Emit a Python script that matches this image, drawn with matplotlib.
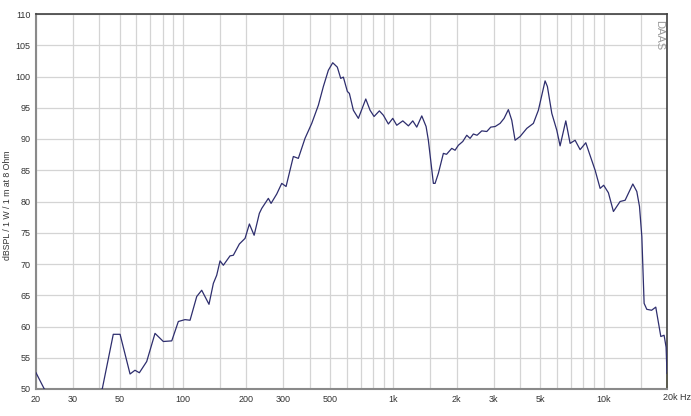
import matplotlib
matplotlib.use("Agg")
import matplotlib.pyplot as plt
import matplotlib.transforms as mtrans
import numpy as np

# frequency response (Hz, dB SPL)
freq = [20, 21.9, 24, 35, 41.3, 46.6, 50.2, 56, 59.1, 62, 67.2, 73.6, 80.6, 88.4,
        95, 102.2, 108, 116.2, 122.7, 132.9, 139.4, 144.6, 150, 155.5, 167.3, 173.5,
        185.3, 197.2, 206.8, 217.8, 230.6, 236.8, 254.5, 262.2, 279, 294.7, 309,
        334.6, 353.4, 380.2, 409.3, 440, 464.8, 490.9, 515, 541.5, 562, 578.6,
        604.5, 617.9, 645.5, 681.8, 739.4, 775, 809.7, 858, 896.5, 947, 993.6,
        1038, 1109, 1179, 1237, 1292, 1365, 1431, 1467, 1550, 1579, 1637, 1729,
        1790, 1895, 1965, 2038, 2138, 2234, 2316, 2401, 2500, 2633, 2781, 2905,
        3050, 3217, 3361, 3522, 3656, 3791, 4005, 4310, 4632, 4892, 5265, 5400,
        5667, 5985, 6205, 6605, 6924, 7313, 7726, 8222, 8550, 9106, 9617, 10000,
        10530, 11125, 11970, 12644, 13757, 14370, 14800, 15183, 15569, 16032,
        16900, 17687, 18000, 18690, 19373, 19800, 20000]
spl = [52.6, 50.0, 49.0, 49.0, 50.0, 58.75, 58.75, 52.4, 53.0, 52.6, 54.4, 58.9,
       57.6, 57.7, 60.8, 61.1, 61.0, 64.8, 65.8, 63.55, 66.9, 68.2, 70.5, 69.8,
       71.3, 71.4, 73.2, 74.1, 76.4, 74.6, 78.1, 78.9, 80.5, 79.7, 81.2, 82.9,
       82.4, 87.2, 86.9, 90.1, 92.5, 95.4, 98.4, 101.0, 102.2, 101.5, 99.7, 99.9,
       97.6, 97.3, 94.6, 93.3, 96.4, 94.6, 93.6, 94.5, 93.8, 92.4, 93.3, 92.2,
       92.9, 92.1, 92.9, 91.9, 93.7, 92.0, 89.8, 82.9, 82.9, 84.5, 87.7, 87.55,
       88.5, 88.2, 89.0, 89.6, 90.6, 90.1, 90.8, 90.6, 91.3, 91.2, 91.9, 92.0,
       92.5, 93.3, 94.7, 93.0, 89.8, 90.4, 91.7, 92.5, 94.6, 99.3, 98.4, 94.1,
       91.4, 88.9, 92.9, 89.3, 89.8, 88.3, 89.4, 87.7, 85.0, 82.1, 82.6, 81.4,
       78.4, 80.0, 80.2, 82.8, 81.6, 79.2, 74.4, 63.7, 62.75, 62.6, 63.1, 61.6,
       58.4, 58.6, 56.7, 52.5]

xticks = [20, 30, 50, 100, 200, 300, 500, 1000, 2000, 3000, 5000, 10000]
xticklabels = ["20", "30", "50", "100", "200", "300", "500", "1k", "2k", "3k", "5k", "10k"]
gridx = [20, 30, 40, 50, 60, 70, 80, 90, 100, 150, 200, 300, 400, 500, 600, 700, 800,
         900, 1000, 1500, 2000, 3000, 4000, 5000, 6000, 7000, 8000, 9000, 10000,
         15000, 20000]
yticks = list(range(50, 111, 5))

plt.rcParams['font.family'] = ['Liberation Sans', 'DejaVu Sans']

fig = plt.figure(figsize=(6.91, 4.16), dpi=100)
ax = fig.add_axes([36 / 691, 1 - 389 / 416, 631 / 691, 375 / 416])

for g in gridx:
    ax.axvline(g, color='#d4d4d4', lw=0.9, zorder=0)
for g in yticks:
    ax.axhline(g, color='#d4d4d4', lw=0.9, zorder=0)

ax.plot(freq, spl, color='#2e2e6e', lw=0.9, zorder=3)
# small yellow end marker at 20 kHz
ax.plot([20000, 20000], [spl[-1], 50], color='#f0f090', lw=1.2, zorder=2, clip_on=False)

ax.set_xscale('log')
ax.set_xlim(20, 20000)
ax.set_ylim(50, 110)
ax.set_xticks(xticks)
ax.set_xticklabels(xticklabels)
ax.xaxis.set_minor_locator(matplotlib.ticker.NullLocator())
ax.set_yticks(yticks)
ax.tick_params(length=0, labelsize=6.5, colors='#333333', pad=4)

# last x label sits just right of the 20k line
lab_tr = mtrans.offset_copy(ax.get_xaxis_transform(), fig=fig, x=-4, y=-4, units='dots')
ax.text(20000, 0, "20k Hz", transform=lab_tr, ha='left', va='top',
        fontsize=6.5, color='#333333')

ax.set_ylabel("dBSPL / 1 W / 1 m at 8 Ohm", fontsize=6.3, color='#333333')
ax.yaxis.set_label_coords(-0.038, 0.49)

for s in ['left', 'bottom']:
    ax.spines[s].set_color('#8a8a8a')
    ax.spines[s].set_linewidth(1.5)
for s in ['top', 'right']:
    ax.spines[s].set_color('#404040')
    ax.spines[s].set_linewidth(1.2)

ax.text(0.995, 0.985, "DAAS", transform=ax.transAxes, rotation=-90,
        ha='right', va='top', fontsize=8, color='#9a9a9a')

fig.savefig("out.png", dpi=100)
